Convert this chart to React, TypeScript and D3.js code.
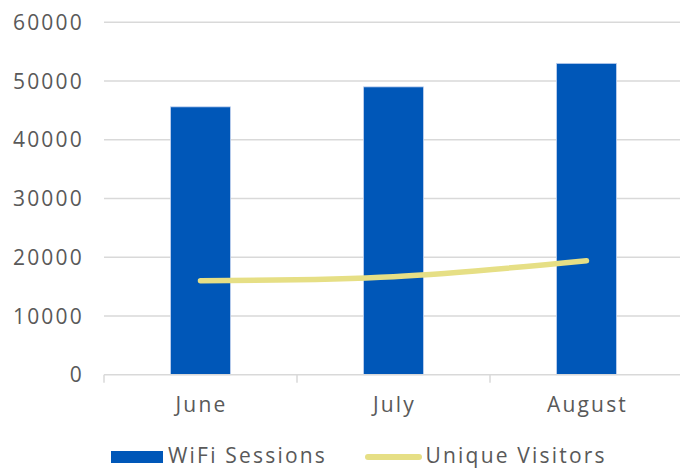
import React from 'react'
import * as d3 from 'd3'

const months = ['June', 'July', 'August']
const wifiSessions = [45600, 49000, 53000]
const uniqueVisitors = [16000, 16700, 19400]
const yTicks = [0, 10000, 20000, 30000, 40000, 50000, 60000]

const W = 680
const H = 472
const margin = { top: 22.25, right: -3, bottom: 97.25, left: 104 }
const font = '"Open Sans", sans-serif'
const textColor = '#595959'
const gridColor = '#d9d9d9'

export default function App() {
  const x = d3.scaleBand<string>()
    .domain(months)
    .range([margin.left, W - margin.right])
    .padding(0)
  const y = d3.scaleLinear()
    .domain([0, 60000])
    .range([H - margin.bottom, margin.top])

  const barW = x.bandwidth() * 0.31
  const cx = (m: string) => (x(m) as number) + x.bandwidth() / 2

  const line = d3.line<number>()
    .x((d, i) => cx(months[i]))
    .y(d => y(d))
    .curve(d3.curveCatmullRom.alpha(0.5))

  const y0 = y(0)

  return (
    <svg width={W} height={H} style={{ position: 'absolute', left: 0, top: 0 }}>
      {/* grid */}
      {yTicks.filter(t => t > 0).map(t => (
        <line key={t} x1={margin.left} x2={W - margin.right} y1={y(t)} y2={y(t)}
          stroke={gridColor} strokeWidth={1.5} />
      ))}
      {/* y labels */}
      {yTicks.map(t => (
        <text key={t} x={84} y={y(t)} dy="0.36em" textAnchor="end"
          fontFamily={font} fontSize={21} letterSpacing={2.2} fill={textColor}>{t}</text>
      ))}

      {/* bars */}
      {months.map((m, i) => (
        <rect key={m} x={cx(m) - barW / 2} y={y(wifiSessions[i])} width={barW}
          height={y0 - y(wifiSessions[i])} fill="#0057b8" stroke="#bfd0ee" strokeWidth={0.8} />
      ))}

      {/* x axis */}
      <line x1={margin.left} x2={W - margin.right} y1={y0} y2={y0} stroke={gridColor} strokeWidth={1.5} />
      {months.map(m => (
        <line key={m} x1={x(m)} x2={x(m)} y1={y0} y2={y0 + 8} stroke={gridColor} strokeWidth={1.5} />
      ))}
      {months.map(m => (
        <text key={m} x={cx(m) + 1} y={412} textAnchor="middle"
          fontFamily={font} fontSize={21} letterSpacing={2.2} fill={textColor}>{m}</text>
      ))}

      {/* line */}
      <path d={line(uniqueVisitors) || ''} fill="none" stroke="#e6df85" strokeWidth={5.5}
        strokeLinecap="round" strokeLinejoin="round" />

      {/* legend */}
      <rect x={111} y={451} width={52} height={12} fill="#0057b8" />
      <text x={168} y={462.5} fontFamily={font} fontSize={21} letterSpacing={2.2} fill={textColor}>WiFi Sessions</text>
      <line x1={368} x2={419} y1={457} y2={457} stroke="#e6df85" strokeWidth={6} strokeLinecap="round" />
      <text x={425.5} y={462.5} fontFamily={font} fontSize={21} letterSpacing={2.2} fill={textColor}>Unique Visitors</text>
    </svg>
  )
}
